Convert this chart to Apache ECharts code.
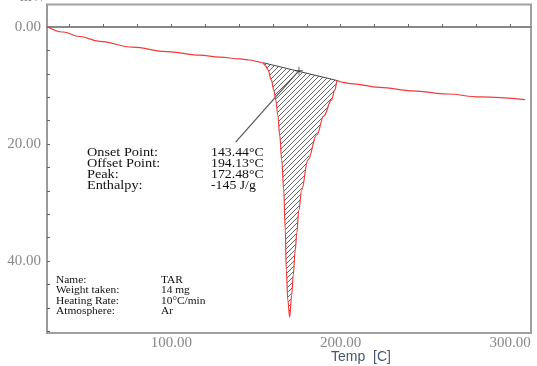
<!DOCTYPE html>
<html>
<head>
<meta charset="utf-8">
<script src="https://cdn.jsdelivr.net/npm/echarts@6/dist/echarts.min.js"></script>
<style>
html,body{margin:0;padding:0;background:#fff;}
#chart{width:537px;height:366px;}
</style>
</head>
<body>
<div id="chart"></div>
<script>
// ---- data ----
const temps = [26.6, 36.0, 45.8, 57.6, 77.1, 97.2, 116.7, 128.6, 140.4, 146.3, 151.0, 154.0, 155.7, 157.1, 159.1, 160.5, 161.7, 162.9, 164.0, 165.2, 166.4, 167.3, 167.9, 168.8, 169.9, 171.1, 172.0, 173.2, 174.1, 175.3, 177.0, 180.6, 185.9, 190.0, 194.6, 196.5, 198.0, 199.5, 201.3, 205.4, 223.1, 242.7, 262.8, 282.3, 308.9];
const heatFlow = [-0.1, 0.85, 1.62, 2.45, 3.45, 4.2, 4.8, 5.14, 5.45, 5.64, 5.90, 6.15, 6.67, 7.35, 9.06, 10.77, 12.48, 15.04, 18.46, 22.74, 27.86, 34.70, 41.54, 46.67, 49.57, 45.81, 42.39, 38.12, 35.21, 31.28, 27.86, 22.74, 18.46, 15.21, 12.48, 10.77, 9.15, 9.32, 9.45, 9.66, 10.3, 10.9, 11.45, 11.95, 12.4];
const baselineT = [154.1, 198.0];
const baselineV = [6.10, 9.15];
const markerPoint = [175.4, 7.47];
const leaderEnd = [138.0, 19.66];
const xLabelValues = [100, 200, 300];
const xTickValues = [40, 60, 80, 100, 120, 140, 160, 180, 200, 220, 240, 260, 280, 300];
const yLabelValues = [0, 20, 40];
const yTickValues = [0, 4, 8, 12, 16, 20, 24, 28, 32, 36, 40, 44, 48, 52];
const resultLabels = ['Onset Point:', 'Offset Point:', 'Peak:', 'Enthalpy:'];
const resultValues = ['143.44°C', '194.13°C', '172.48°C', '-145 J/g'];
const infoLabels = ['Name:', 'Weight taken:', 'Heating Rate:', 'Atmosphere:'];
const infoValues = ['TAR', '14 mg', '10°C/min', 'Ar'];

// ---- build ----
const curve = temps.map((t, i) => [t, heatFlow[i]]);
const hatchPts = [[baselineT[0], baselineV[0]]]
  .concat(curve.filter(p => p[0] > baselineT[0] && p[0] < baselineT[1]))
  .concat([[baselineT[1], baselineV[1]]]);

const pat = document.createElement('canvas');
pat.width = 5; pat.height = 5;
(function () {
  const c = pat.getContext('2d');
  c.strokeStyle = '#555';
  c.lineWidth = 0.9;
  c.beginPath();
  c.moveTo(-1, 6); c.lineTo(6, -1);
  c.moveTo(-1, 1); c.lineTo(1, -1);
  c.moveTo(4, 6); c.lineTo(6, 4);
  c.stroke();
})();

const serif = '"Liberation Serif","Times New Roman",serif';
const graphics = [];
resultLabels.forEach((s, i) => {
  const y = 153 + i * 10.9;
  graphics.push({type: 'text', x: 87, y: y, scaleX: 1.19, style: {text: s, font: '12px ' + serif, fill: '#111', textVerticalAlign: 'middle'}});
  graphics.push({type: 'text', x: 211, y: y, scaleX: 1.15, style: {text: resultValues[i], font: '12px ' + serif, fill: '#111', textVerticalAlign: 'middle'}});
});
infoLabels.forEach((s, i) => {
  const y = 280 + i * 10.6;
  graphics.push({type: 'text', x: 56, y: y, scaleX: 1.2, style: {text: s, font: '9.5px ' + serif, fill: '#111', textVerticalAlign: 'middle'}});
  graphics.push({type: 'text', x: 161, y: y, scaleX: 1.2, style: {text: infoValues[i], font: '9.5px ' + serif, fill: '#111', textVerticalAlign: 'middle'}});
});
graphics.push({type: 'text', x: 361, y: 357, style: {text: 'Temp  [C]', font: '14px "Liberation Sans",Arial,sans-serif', fill: '#4a5670', textAlign: 'center', textVerticalAlign: 'middle'}});
graphics.push({type: 'text', x: 20, y: 5, style: {text: 'mW', font: '15px ' + serif, fill: '#777', textVerticalAlign: 'bottom'}});

const chart = echarts.init(document.getElementById('chart'), null, {renderer: 'canvas'});
chart.setOption({
  animation: false,
  backgroundColor: '#fff',
  grid: {left: 47, right: 6, top: 4.5, bottom: 33, show: true, borderColor: '#a0a0a0', borderWidth: 2, outerBoundsMode: 'none'},
  xAxis: {
    type: 'value', min: 26.6, max: 312.4,
    axisLine: {lineStyle: {color: '#888', width: 2}},
    axisTick: {show: true, inside: true, length: 3, lineStyle: {color: '#666'}, customValues: xTickValues},
    axisLabel: {customValues: xLabelValues, formatter: v => v.toFixed(2), fontFamily: serif, fontSize: 15, color: '#888', margin: 3},
    splitLine: {show: false}
  },
  yAxis: {
    type: 'value', inverse: true, min: -3.85, max: 52.3,
    axisLine: {show: true, lineStyle: {color: '#999', width: 1.5}},
    axisTick: {show: true, inside: true, length: 3, lineStyle: {color: '#666'}, customValues: yTickValues},
    axisLabel: {customValues: yLabelValues, formatter: v => v.toFixed(2), fontFamily: serif, fontSize: 15, color: '#888', margin: 6},
    splitLine: {show: false}
  },
  series: [
    {
      type: 'custom', coordinateSystem: 'cartesian2d', silent: true, z: 1,
      data: [[0, 0]],
      renderItem: (params, api) => ({
        type: 'polygon',
        shape: {points: hatchPts.map(p => api.coord(p))},
        style: {fill: {image: pat, repeat: 'repeat'}, stroke: null}
      })
    },
    {type: 'line', data: baselineT.map((t, i) => [t, baselineV[i]]), symbol: 'none', z: 2, lineStyle: {color: '#444', width: 1}},
    {type: 'line', data: [markerPoint, leaderEnd], symbol: 'none', z: 2, lineStyle: {color: '#555', width: 1.2}},
    {type: 'scatter', data: [markerPoint], z: 4, symbol: 'path://M-0.12,-1H0.12V-0.12H1V0.12H0.12V1H-0.12V0.12H-1V-0.12H-0.12Z', symbolSize: 8, itemStyle: {color: '#333'}},
    {type: 'line', data: curve, symbol: 'none', z: 3, smooth: 0.4, smoothMonotone: 'x', lineStyle: {color: '#f23a3a', width: 1.2}}
  ],
  graphic: graphics
});
</script>
</body>
</html>
